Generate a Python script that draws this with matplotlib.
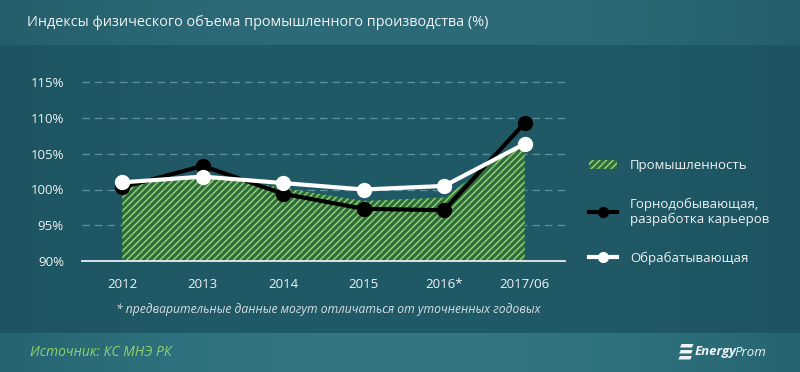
import matplotlib
matplotlib.use('Agg')
import matplotlib.pyplot as plt
import numpy as np
from matplotlib.patches import Polygon

# ---- data ----
categories = ['2012', '2013', '2014', '2015', '2016*', '2017/06']
industry = [100.6, 102.2, 100.2, 98.4, 98.9, 107.0]
mining = [100.3, 103.3, 99.4, 97.3, 97.1, 109.3]
manufacturing = [101.0, 101.8, 100.9, 100.0, 100.5, 106.4]
yticks = [90, 95, 100, 105, 110, 115]
ytick_labels = ['90%', '95%', '100%', '105%', '110%', '115%']
series_names = ['Промышленность', 'Горнодобывающая,\nразработка карьеров', 'Обрабатывающая']
title = 'Индексы физического объема промышленного производства (%)'
footnote = '* предварительные данные могут отличаться от уточненных годовых'
source = 'Источник: КС МНЭ РК'

W, H = 800, 372
FONT = ['Open Sans', 'DejaVu Sans']
plt.rcParams['font.family'] = FONT
plt.rcParams['hatch.linewidth'] = 1.1

fig = plt.figure(figsize=(W / 100, H / 100), dpi=100)
fig.patch.set_facecolor('#1f5663')

def fx(px):
    return px / W

def fy(py):
    return 1 - py / H

# ---- background with gradients ----
bg = fig.add_axes([0, 0, 1, 1], zorder=-5)
bg.set_axis_off()
xs = np.linspace(-1, 1, 400)
hor = 1 - xs ** 2  # lighter in the middle
img = np.zeros((372, 400, 3))
body = np.array([0x1e, 0x54, 0x61]) / 255
body_c = np.array([0x21, 0x5a, 0x67]) / 255
head = np.array([0x25, 0x5e, 0x6b]) / 255
head_c = np.array([0x2e, 0x6b, 0x78]) / 255
foot = np.array([0x26, 0x63, 0x70]) / 255
foot_c = np.array([0x33, 0x77, 0x84]) / 255
for r in range(372):
    if r < 45:
        a, b = head, head_c
    elif r >= 333:
        a, b = foot, foot_c
    else:
        a, b = body, body_c
    img[r] = a[None, :] + (b - a)[None, :] * hor[:, None]
bg.imshow(img, aspect='auto', extent=[0, 1, 0, 1], origin='upper')
bg.set_xlim(0, 1)
bg.set_ylim(0, 1)

# ---- main axes ----
left, right = 82, 565
top_px, bot_px = 75.1, 261
ax = fig.add_axes([fx(left), fy(bot_px), (right - left) / W, (bot_px - top_px) / H])
ax.set_facecolor('none')
x = np.arange(len(categories))

ax.set_xlim(-0.5, len(categories) - 0.5)
ax.set_ylim(90, 116)

for yv in yticks[1:]:
    ax.axhline(yv, color='#5e929c', lw=0.9, ls=(0, (6, 4)), zorder=1)

fill = ax.fill_between(x, 90, industry, facecolor='#2f6b3d', edgecolor='#8ccf70',
                       linewidth=0, hatch='/////', zorder=2, label=series_names[0])

l_mining, = ax.plot(x, mining, color='black', lw=3, marker='o', ms=10,
                    zorder=3, label=series_names[1])
l_manu, = ax.plot(x, manufacturing, color='white', lw=3, marker='o', ms=10,
                  zorder=4, label=series_names[2])

for s in ['top', 'right', 'left']:
    ax.spines[s].set_visible(False)
ax.spines['bottom'].set_color('#e6eef0')
ax.spines['bottom'].set_linewidth(1.3)

ax.set_yticks(yticks)
ax.set_yticklabels(ytick_labels)
ax.set_xticks(x)
ax.set_xticklabels(categories)
ax.tick_params(axis='both', length=0, colors='#eef3f4', labelsize=9.5)
ax.tick_params(axis='y', pad=13)
ax.tick_params(axis='x', pad=12)

leg = ax.legend(handles=[fill, l_mining, l_manu], loc='center left',
                bbox_to_anchor=(fx(577), fy(212)), bbox_transform=fig.transFigure,
                frameon=False, fontsize=9.5, labelcolor='#eef3f4',
                handlelength=2.1, handletextpad=1.0, labelspacing=1.9,
                numpoints=1, markerscale=0.7)

# ---- texts ----
fig.text(fx(27), fy(23), title, fontsize=10.4, color='#eef3f4', va='center', ha='left')
fig.text(fx(116), fy(309), footnote, fontsize=8.7, color='#d5e0e3', style='italic',
         va='center', ha='left')
fig.text(fx(30), fy(352), source, fontsize=10, color='#8fd16a', style='italic',
         va='center', ha='left')

# logo
for i, yy in enumerate([344, 350, 356]):
    pts = [(fx(680 - i * 0.8), fy(yy + 3.5)), (fx(692 - i * 0.8), fy(yy + 3.5)),
           (fx(693.5 - i * 0.8), fy(yy)), (fx(681.5 - i * 0.8), fy(yy))]
    fig.add_artist(Polygon(pts, closed=True, transform=fig.transFigure,
                           facecolor='#eef3f4', edgecolor='none'))
t1 = fig.text(fx(695), fy(352), 'Energy', fontsize=9.5, color='#eef3f4',
              style='italic', weight='bold', va='center', ha='left')
fig.canvas.draw()
bb = t1.get_window_extent()
fig.text((bb.x1 - 3) / W, fy(352), 'Prom', fontsize=9.5, color='#eef3f4',
         style='italic', va='center', ha='left')

fig.savefig('out.png', dpi=100, facecolor=fig.get_facecolor())
